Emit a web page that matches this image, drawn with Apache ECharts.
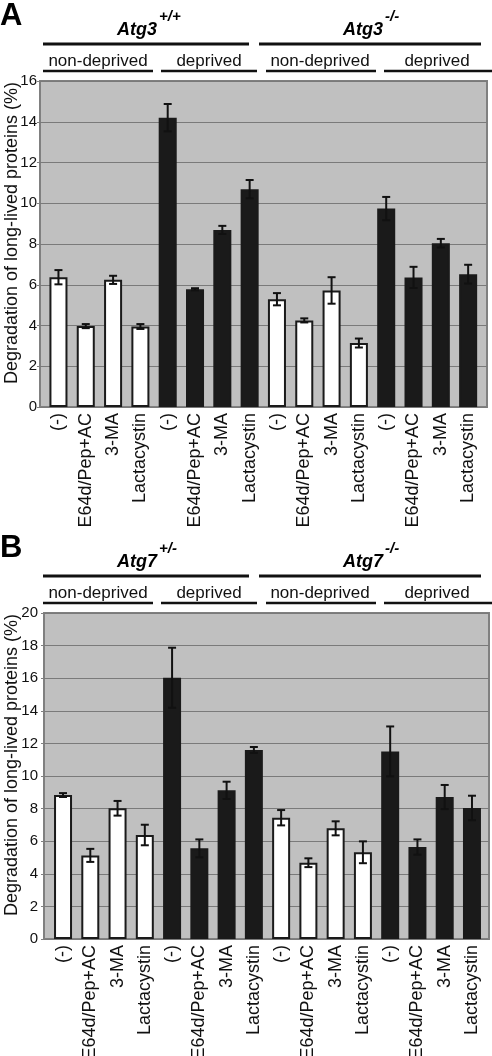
<!DOCTYPE html>
<html>
<head>
<meta charset="utf-8">
<script src="https://cdn.jsdelivr.net/npm/echarts@6/dist/echarts.min.js"></script>
<style>
html,body{margin:0;padding:0;background:#fff;}
#chart{width:492px;height:1056px;}
</style>
</head>
<body>
<div id="chart"></div>
<script>
// ---- data ----
const treatments = ['(-)', 'E64d/Pep+AC', '3-MA', 'Lactacystin'];
const conditions = ['non-deprived', 'deprived', 'non-deprived', 'deprived'];
const genotypesA = ['Atg3', '+/+', 'Atg3', '-/-'];
const genotypesB = ['Atg7', '+/-', 'Atg7', '-/-'];
const yAxisTitle = 'Degradation of long-lived proteins (%)';
const yMaxA = 16, yMaxB = 20, yStep = 2;

const atg3Mean = [6.37, 3.97, 6.24, 3.95, 14.2, 5.78, 8.69, 10.69, 5.29, 4.25, 5.72, 3.14, 9.74, 6.36, 8.04, 6.52];
const atg3Err  = [0.35, 0.10, 0.20, 0.12, 0.67, 0.05, 0.20, 0.45, 0.30, 0.10, 0.65, 0.22, 0.57, 0.52, 0.21, 0.46];
const atg7Mean = [8.83, 5.13, 8.02, 6.38, 16.03, 5.56, 9.12, 11.6, 7.44, 4.68, 6.79, 5.32, 11.51, 5.64, 8.71, 8.04];
const atg7Err  = [0.12, 0.40, 0.45, 0.63, 1.84, 0.55, 0.53, 0.18, 0.47, 0.27, 0.43, 0.67, 1.53, 0.47, 0.74, 0.75];

// ---- build ----
const categories = [];
const deprivedFlags = [];
conditions.forEach(c => treatments.forEach(t => { categories.push(t); deprivedFlags.push(c === 'deprived'); }));

const FONT = "'Liberation Sans', Arial, sans-serif";
const TXT = '#111';

function barData(means) {
  return means.map((v, i) => ({
    value: v,
    itemStyle: deprivedFlags[i]
      ? { color: '#1a1a1a', borderColor: '#1a1a1a', borderWidth: 2 }
      : { color: '#ffffff', borderColor: '#1a1a1a', borderWidth: 2 }
  }));
}
function errData(means, errs) { return means.map((v, i) => [i, v, errs[i]]); }

function renderErr(params, api) {
  const x = api.value(0), m = api.value(1), e = api.value(2);
  const top = api.coord([x, m + e]);
  const bot = api.coord([x, m - e]);
  const hw = 4;
  const st = { stroke: '#111', lineWidth: 2 };
  return { type: 'group', children: [
    { type: 'line', shape: { x1: top[0], y1: top[1], x2: bot[0], y2: bot[1] }, style: st },
    { type: 'line', shape: { x1: top[0] - hw, y1: top[1], x2: top[0] + hw, y2: top[1] }, style: st },
    { type: 'line', shape: { x1: bot[0] - hw, y1: bot[1], x2: bot[0] + hw, y2: bot[1] }, style: st }
  ]};
}

// layout
const L = {
  A: { outer: { left: 40, top: 81, width: 447, height: 326 }, bars: { left: 44.8, top: 81, width: 437, height: 326 }, dy: 0, labMargin: 3 },
  B: { outer: { left: 44, top: 613, width: 445, height: 326 }, bars: { left: 49.4, top: 613, width: 436.2, height: 326 }, dy: 532, labMargin: 6 }
};

const base = { containLabel: false, outerBoundsMode: 'none' };
const grids = [
  Object.assign({ show: true, backgroundColor: '#c0c0c0', borderColor: '#808080', borderWidth: 2 }, base, L.A.outer),
  Object.assign({ show: false }, base, L.A.bars),
  Object.assign({ show: true, backgroundColor: '#c0c0c0', borderColor: '#808080', borderWidth: 2 }, base, L.B.outer),
  Object.assign({ show: false }, base, L.B.bars)
];

function outerY(gi, max, margin) {
  return {
    type: 'value', gridIndex: gi, min: 0, max: max, interval: yStep,
    axisLine: { show: false },
    axisTick: { show: true, length: 3, lineStyle: { color: '#808080' } },
    axisLabel: { fontSize: 15, color: TXT, fontFamily: FONT, margin: margin },
    splitLine: { show: true, lineStyle: { color: '#7a7a7a', width: 1 } }
  };
}
function innerY(gi, max) {
  return { type: 'value', gridIndex: gi, min: 0, max: max, interval: yStep, show: false, splitLine: { show: false } };
}
function outerX(gi) { return { type: 'value', gridIndex: gi, min: 0, max: 1, show: false, splitLine: { show: false } }; }
function innerX(gi) {
  return {
    type: 'category', gridIndex: gi, data: categories,
    axisLine: { show: false }, axisTick: { show: false },
    axisLabel: { interval: 0, rotate: 90, fontSize: 18, color: TXT, fontFamily: FONT, margin: 6 }
  };
}

function headerGraphics(p, geno, letter) {
  const dy = L[p].dy;
  const g = [];
  g.push({ type: 'text', x: 0, y: 16.5 + dy, style: { text: letter, fontSize: 31, fontWeight: 'bold', fontFamily: FONT, fill: '#000', align: 'left', verticalAlign: 'middle' } });
  const atgRight = [157, 383], supLeft = [159, 385], supY = [17, 16.5];
  for (let k = 0; k < 2; k++) {
    g.push({ type: 'text', x: atgRight[k], y: 30 + dy, style: { text: geno[k * 2], fontSize: 18, fontWeight: 'bold', fontStyle: 'italic', fontFamily: FONT, fill: '#000', align: 'right', verticalAlign: 'middle' } });
    g.push({ type: 'text', x: supLeft[k], y: supY[k] + dy, style: { text: geno[k * 2 + 1], fontSize: 15, fontWeight: 'bold', fontStyle: 'italic', fontFamily: FONT, fill: '#000', align: 'left', verticalAlign: 'middle' } });
  }
  [[43, 249], [259, 481]].forEach(s => g.push({ type: 'line', shape: { x1: s[0], y1: 44 + dy, x2: s[1], y2: 44 + dy }, style: { stroke: '#111', lineWidth: 3 } }));
  const centers = [98, 209, 320, 437];
  const unders = [[43, 153], [161, 257], [266, 376], [384, 492]];
  conditions.forEach((c, k) => {
    g.push({ type: 'text', x: centers[k], y: 61 + dy, style: { text: c, fontSize: 17, fontFamily: FONT, fill: TXT, align: 'center', verticalAlign: 'middle' } });
    g.push({ type: 'line', shape: { x1: unders[k][0], y1: 71 + dy, x2: unders[k][1], y2: 71 + dy }, style: { stroke: '#111', lineWidth: 2.5 } });
  });
  const o = L[p].outer;
  g.push({ type: 'text', x: 12, y: o.top + o.height / 2 - 11, rotation: Math.PI / 2, style: { text: yAxisTitle, fontSize: 18, fontFamily: FONT, fill: TXT, align: 'center', verticalAlign: 'middle' } });
  return g;
}

const option = {
  animation: false,
  grid: grids,
  xAxis: [outerX(0), innerX(1), outerX(2), innerX(3)],
  yAxis: [outerY(0, yMaxA, L.A.labMargin), innerY(1, yMaxA), outerY(2, yMaxB, L.B.labMargin), innerY(3, yMaxB)],
  series: [
    { type: 'bar', xAxisIndex: 1, yAxisIndex: 1, barWidth: '66%', data: barData(atg3Mean), z: 2 },
    { type: 'custom', xAxisIndex: 1, yAxisIndex: 1, renderItem: renderErr, data: errData(atg3Mean, atg3Err), z: 3 },
    { type: 'bar', xAxisIndex: 3, yAxisIndex: 3, barWidth: '66%', data: barData(atg7Mean), z: 2 },
    { type: 'custom', xAxisIndex: 3, yAxisIndex: 3, renderItem: renderErr, data: errData(atg7Mean, atg7Err), z: 3 }
  ],
  graphic: headerGraphics('A', genotypesA, 'A').concat(headerGraphics('B', genotypesB, 'B'))
};

const chart = echarts.init(document.getElementById('chart'), null, { renderer: 'canvas' });
chart.setOption(option);
</script>
</body>
</html>
